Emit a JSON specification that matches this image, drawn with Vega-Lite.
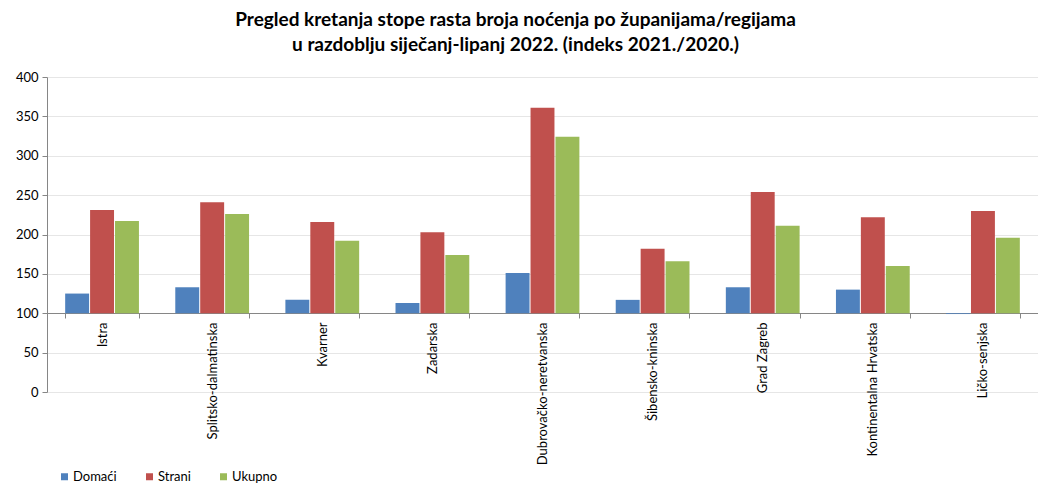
{
  "$schema": "https://vega.github.io/schema/vega-lite/v6.json",
  "autosize": "none",
  "padding": {"left": 47, "top": 77, "right": 0, "bottom": 91},
  "width": 991,
  "height": 315,
  "background": "white",
  "title": {
    "text": ["Pregled kretanja stope rasta broja noćenja po županijama/regijama", "u razdoblju siječanj-lipanj 2022. (indeks 2021./2020.)"],
    "font": "Lato",
    "fontSize": 19,
    "fontWeight": "bold",
    "color": "#000000",
    "anchor": "middle",
    "dx": -27,
    "offset": 16,
    "lineHeight": 25
  },
  "config": {
    "view": {"stroke": null},
    "font": "Lato"
  },
  "data": {
    "values": [
      {"region": "Istra", "series": "Domaći", "value": 125},
      {"region": "Istra", "series": "Strani", "value": 231},
      {"region": "Istra", "series": "Ukupno", "value": 217},
      {"region": "Splitsko-dalmatinska", "series": "Domaći", "value": 133},
      {"region": "Splitsko-dalmatinska", "series": "Strani", "value": 241},
      {"region": "Splitsko-dalmatinska", "series": "Ukupno", "value": 226},
      {"region": "Kvarner", "series": "Domaći", "value": 117},
      {"region": "Kvarner", "series": "Strani", "value": 216},
      {"region": "Kvarner", "series": "Ukupno", "value": 192},
      {"region": "Zadarska", "series": "Domaći", "value": 113},
      {"region": "Zadarska", "series": "Strani", "value": 203},
      {"region": "Zadarska", "series": "Ukupno", "value": 174},
      {"region": "Dubrovačko-neretvanska", "series": "Domaći", "value": 151},
      {"region": "Dubrovačko-neretvanska", "series": "Strani", "value": 361},
      {"region": "Dubrovačko-neretvanska", "series": "Ukupno", "value": 324},
      {"region": "Šibensko-kninska", "series": "Domaći", "value": 117},
      {"region": "Šibensko-kninska", "series": "Strani", "value": 182},
      {"region": "Šibensko-kninska", "series": "Ukupno", "value": 166},
      {"region": "Grad Zagreb", "series": "Domaći", "value": 133},
      {"region": "Grad Zagreb", "series": "Strani", "value": 254},
      {"region": "Grad Zagreb", "series": "Ukupno", "value": 211},
      {"region": "Kontinentalna Hrvatska", "series": "Domaći", "value": 130},
      {"region": "Kontinentalna Hrvatska", "series": "Strani", "value": 222},
      {"region": "Kontinentalna Hrvatska", "series": "Ukupno", "value": 160},
      {"region": "Ličko-senjska", "series": "Domaći", "value": 99},
      {"region": "Ličko-senjska", "series": "Strani", "value": 230},
      {"region": "Ličko-senjska", "series": "Ukupno", "value": 196}
    ]
  },
  "mark": {"type": "bar"},
  "encoding": {
    "x": {
      "field": "region",
      "type": "nominal",
      "sort": null,
      "title": null,
      "scale": {"paddingInner": 0.33, "paddingOuter": 0.165},
      "axis": {
        "offset": -79,
        "labelAngle": -90,
        "labelFontSize": 13,
        "labelColor": "#000000",
        "labelFont": "Lato",
        "labelPadding": 4,
        "domainColor": "#868686",
        "tickColor": "#868686",
        "tickBand": "extent",
        "tickSize": 5,
        "labelLimit": 300
      }
    },
    "xOffset": {
      "field": "series",
      "type": "nominal",
      "scale": {"paddingInner": 0.04}
    },
    "y": {
      "field": "value",
      "type": "quantitative",
      "title": null,
      "scale": {"domain": [0, 400], "nice": false},
      "axis": {
        "values": [0, 50, 100, 150, 200, 250, 300, 350, 400],
        "labelFontSize": 13,
        "labelColor": "#000000",
        "labelPadding": 4,
        "domainColor": "#868686",
        "tickColor": "#868686",
        "tickSize": 5,
        "gridColor": "#e6e6e6",
        "gridWidth": 1
      }
    },
    "y2": {"datum": 100},
    "color": {
      "field": "series",
      "type": "nominal",
      "title": null,
      "scale": {"domain": ["Domaći", "Strani", "Ukupno"], "range": ["#4F81BD", "#C0504D", "#9BBB59"]},
      "legend": {
        "orient": "none",
        "direction": "horizontal",
        "legendX": 11,
        "legendY": 393,
        "symbolType": "square",
        "symbolSize": 49,
        "symbolStrokeWidth": 0,
        "labelFontSize": 13,
        "labelColor": "#000000",
        "columnPadding": 26,
        "labelOffset": 2
      }
    }
  }
}
